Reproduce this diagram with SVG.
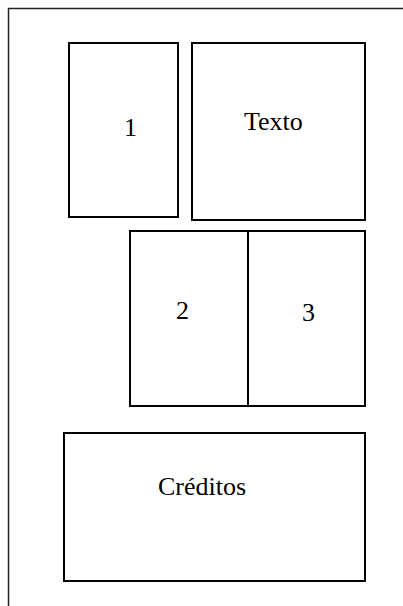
<svg xmlns="http://www.w3.org/2000/svg" width="403" height="606" viewBox="0 0 403 606">
<style>
.box{fill:#fff;stroke:#000;stroke-width:2}
.lbl{font-family:'Liberation Serif','Times New Roman',Times,serif;font-size:26px;fill:#000}
</style>
<rect x="0" y="0" width="403" height="606" fill="#fff"/>
<g id="frame"><rect x="8.5" y="8.5" width="420" height="620" fill="none" stroke="#222" stroke-width="1.5"/></g>
<g id="n1"><rect class="box" x="69" y="43" width="109" height="174"/><text class="lbl" x="124" y="136">1</text></g>
<g id="texto"><rect class="box" x="192" y="43" width="173" height="177"/><text class="lbl" x="244" y="130">Texto</text></g>
<g id="n2"><rect class="box" x="130" y="231" width="118" height="175"/><text class="lbl" x="176" y="319">2</text></g>
<g id="n3"><rect class="box" x="248" y="231" width="117" height="175"/><text class="lbl" x="302" y="321">3</text></g>
<g id="creditos"><rect class="box" x="64" y="433" width="301" height="148"/><text class="lbl" x="158" y="495">Créditos</text></g>
<g id="connectors"></g>
</svg>
